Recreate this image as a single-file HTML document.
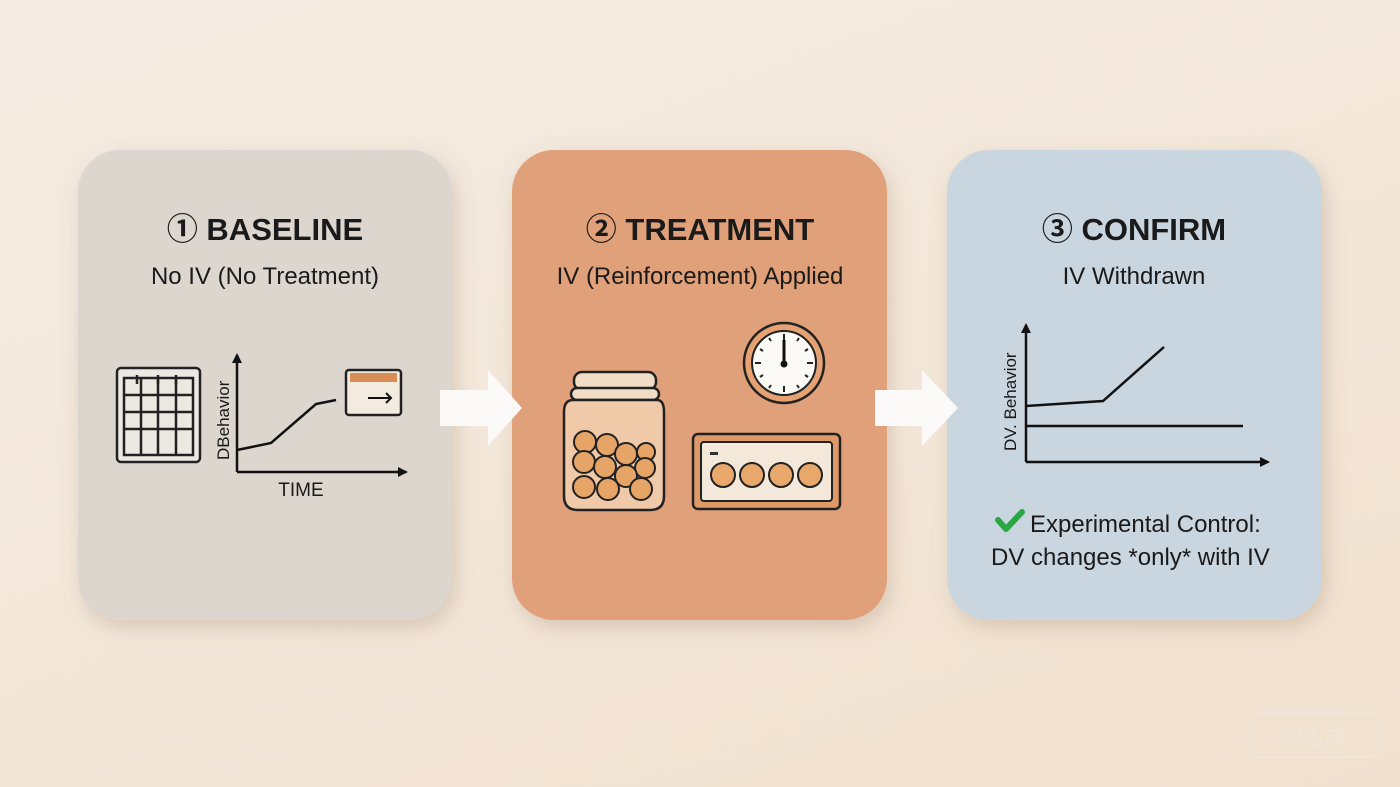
<!DOCTYPE html>
<html><head><meta charset="utf-8"><style>
html,body{margin:0;padding:0;width:1400px;height:787px;overflow:hidden}
body{background:linear-gradient(160deg,#f4ece3 0%,#f3e6d8 60%,#f2e1cf 100%);font-family:"Liberation Sans","Noto Sans CJK SC",sans-serif}
svg text{font-family:"Liberation Sans","Noto Sans CJK SC",sans-serif}
</style></head><body>
<svg width="1400" height="787" viewBox="0 0 1400 787" xmlns="http://www.w3.org/2000/svg">
<defs>
<filter id="sh" x="-20%" y="-20%" width="140%" height="140%"><feDropShadow dx="4" dy="8" stdDeviation="10" flood-color="#8a6a50" flood-opacity="0.25"/></filter>
<marker id="ah" markerWidth="10" markerHeight="10" refX="8" refY="5" orient="auto" markerUnits="userSpaceOnUse"><path d="M0,0 L10,5 L0,10 Z" fill="#111"/></marker>
</defs>
<!-- cards -->
<rect x="78" y="150" width="374" height="470" rx="42" fill="#dcd6cf" filter="url(#sh)"/>
<rect x="512" y="150" width="375" height="470" rx="42" fill="#e0a079" filter="url(#sh)"/>
<rect x="947" y="150" width="375" height="470" rx="42" fill="#cad6df" filter="url(#sh)"/>
<!-- arrows -->
<path d="M440,390 L488,390 L488,370 L522,408 L488,446 L488,426 L440,426 Z" fill="#fbfaf8"/>
<path d="M875,390 L922,390 L922,370 L958,408 L922,446 L922,426 L875,426 Z" fill="#fbfaf8"/>
<!-- titles -->
<g font-size="31" font-weight="bold" fill="#1a1a1a" text-anchor="middle">
<text x="265" y="240">① BASELINE</text>
<text x="700" y="240">② TREATMENT</text>
<text x="1134" y="240">③ CONFIRM</text>
</g>
<g font-size="24" fill="#1a1a1a" text-anchor="middle">
<text x="265" y="284">No IV (No Treatment)</text>
<text x="700" y="284">IV (Reinforcement) Applied</text>
<text x="1134" y="284">IV Withdrawn</text>
</g>
<!-- card1 icons -->
<rect x="117" y="368" width="83" height="94" rx="4" fill="#ece8e2" stroke="#222" stroke-width="2.5"/>
<g stroke="#222" stroke-width="2.5" fill="none">
<path d="M124,378 H193 V455 H124 Z M124,395 H193 M124,412 H193 M124,429 H193 M141,378 V455 M158,378 V455 M176,378 V455"/>
<path d="M137,375 V384 M158,375 V384 M176,375 V384"/>
</g>
<line x1="237" y1="472" x2="237" y2="355" stroke="#111" stroke-width="2.5" marker-end="url(#ah)"/>
<line x1="237" y1="472" x2="406" y2="472" stroke="#111" stroke-width="2.5" marker-end="url(#ah)"/>
<polyline points="237,450 271,443 316,404 336,400" fill="none" stroke="#111" stroke-width="2.5"/>
<text x="229" y="460" font-size="17" fill="#1a1a1a" transform="rotate(-90 229 460)">DBehavior</text>
<text x="301" y="496" font-size="19" fill="#1a1a1a" text-anchor="middle">TIME</text>
<rect x="346" y="370" width="55" height="45" rx="3" fill="#f4ebe0" stroke="#222" stroke-width="2.5"/>
<rect x="350" y="373" width="47" height="9" fill="#d98e55"/>
<path d="M368,398 H391 M386,393 L391,398 L386,403" stroke="#111" stroke-width="2" fill="none"/>
<!-- card2 icons -->
<circle cx="784" cy="363" r="40" fill="#e6a272" stroke="#222" stroke-width="2.5"/>
<circle cx="784" cy="363" r="32" fill="#fbfaf7" stroke="#222" stroke-width="2"/>
<g stroke="#222" stroke-width="2">
<line x1="784" y1="334" x2="784" y2="340"/><line x1="784" y1="386" x2="784" y2="392"/>
<line x1="755" y1="363" x2="761" y2="363"/><line x1="807" y1="363" x2="813" y2="363"/>
<line x1="769" y1="338" x2="771" y2="341"/><line x1="799" y1="338" x2="797" y2="341"/>
<line x1="769" y1="388" x2="771" y2="385"/><line x1="799" y1="388" x2="797" y2="385"/>
<line x1="760" y1="349" x2="763" y2="351"/><line x1="808" y1="349" x2="805" y2="351"/>
<line x1="760" y1="377" x2="763" y2="375"/><line x1="808" y1="377" x2="805" y2="375"/>
</g>
<line x1="784" y1="364" x2="784" y2="340" stroke="#111" stroke-width="3"/>
<circle cx="784" cy="364" r="3.5" fill="#111"/>
<rect x="693" y="434" width="147" height="75" rx="5" fill="#dd9a68" stroke="#222" stroke-width="2.5"/>
<rect x="701" y="442" width="131" height="59" rx="3" fill="#f3e8da" stroke="#222" stroke-width="2"/>
<g fill="#e8a86c" stroke="#222" stroke-width="2">
<circle cx="723" cy="475" r="12"/><circle cx="752" cy="475" r="12"/><circle cx="781" cy="475" r="12"/><circle cx="810" cy="475" r="12"/>
</g>
<rect x="710" y="452" width="8" height="3" fill="#333"/>
<!-- jar -->
<rect x="574" y="372" width="82" height="18" rx="8" fill="#f1dcc6" stroke="#222" stroke-width="2.5"/>
<rect x="571" y="388" width="88" height="12" rx="6" fill="#f1dcc6" stroke="#222" stroke-width="2.5"/>
<path d="M573,400 H657 Q664,400 664,412 V496 Q664,510 650,510 H578 Q564,510 564,496 V412 Q564,400 573,400 Z" fill="#efc9a8" stroke="#222" stroke-width="2.5"/>
<g fill="#e6a567" stroke="#222" stroke-width="2">
<circle cx="585" cy="442" r="11"/><circle cx="607" cy="445" r="11"/><circle cx="626" cy="454" r="11"/><circle cx="646" cy="452" r="9"/>
<circle cx="584" cy="462" r="11"/><circle cx="605" cy="467" r="11"/><circle cx="645" cy="468" r="10"/><circle cx="626" cy="476" r="11"/>
<circle cx="584" cy="487" r="11"/><circle cx="608" cy="489" r="11"/><circle cx="641" cy="489" r="11"/>
</g>
<!-- card3 chart -->
<line x1="1026" y1="462" x2="1026" y2="325" stroke="#111" stroke-width="2.5" marker-end="url(#ah)"/>
<line x1="1026" y1="462" x2="1268" y2="462" stroke="#111" stroke-width="2.5" marker-end="url(#ah)"/>
<polyline points="1026,406 1103,401 1164,347" fill="none" stroke="#111" stroke-width="2.5"/>
<line x1="1026" y1="426" x2="1243" y2="426" stroke="#111" stroke-width="2.5"/>
<text x="1016" y="451" font-size="17" fill="#1a1a1a" transform="rotate(-90 1016 451)">DV. Behavior</text>
<path d="M998,520 L1006,529 L1022,512" fill="none" stroke="#2aa644" stroke-width="6" stroke-linecap="round" stroke-linejoin="round"/>
<g font-size="24" fill="#1a1a1a">
<text x="1030" y="532">Experimental Control:</text>
<text x="991" y="565">DV changes *only* with IV</text>
</g>
<!-- watermark -->
<rect x="1250" y="713" width="128" height="44" rx="6" fill="none" stroke="#efe7dc" stroke-width="1.5"/>
<text x="1314" y="745" font-size="22" fill="#efe7dc" text-anchor="middle">AI生成</text>
</svg>
</body></html>
